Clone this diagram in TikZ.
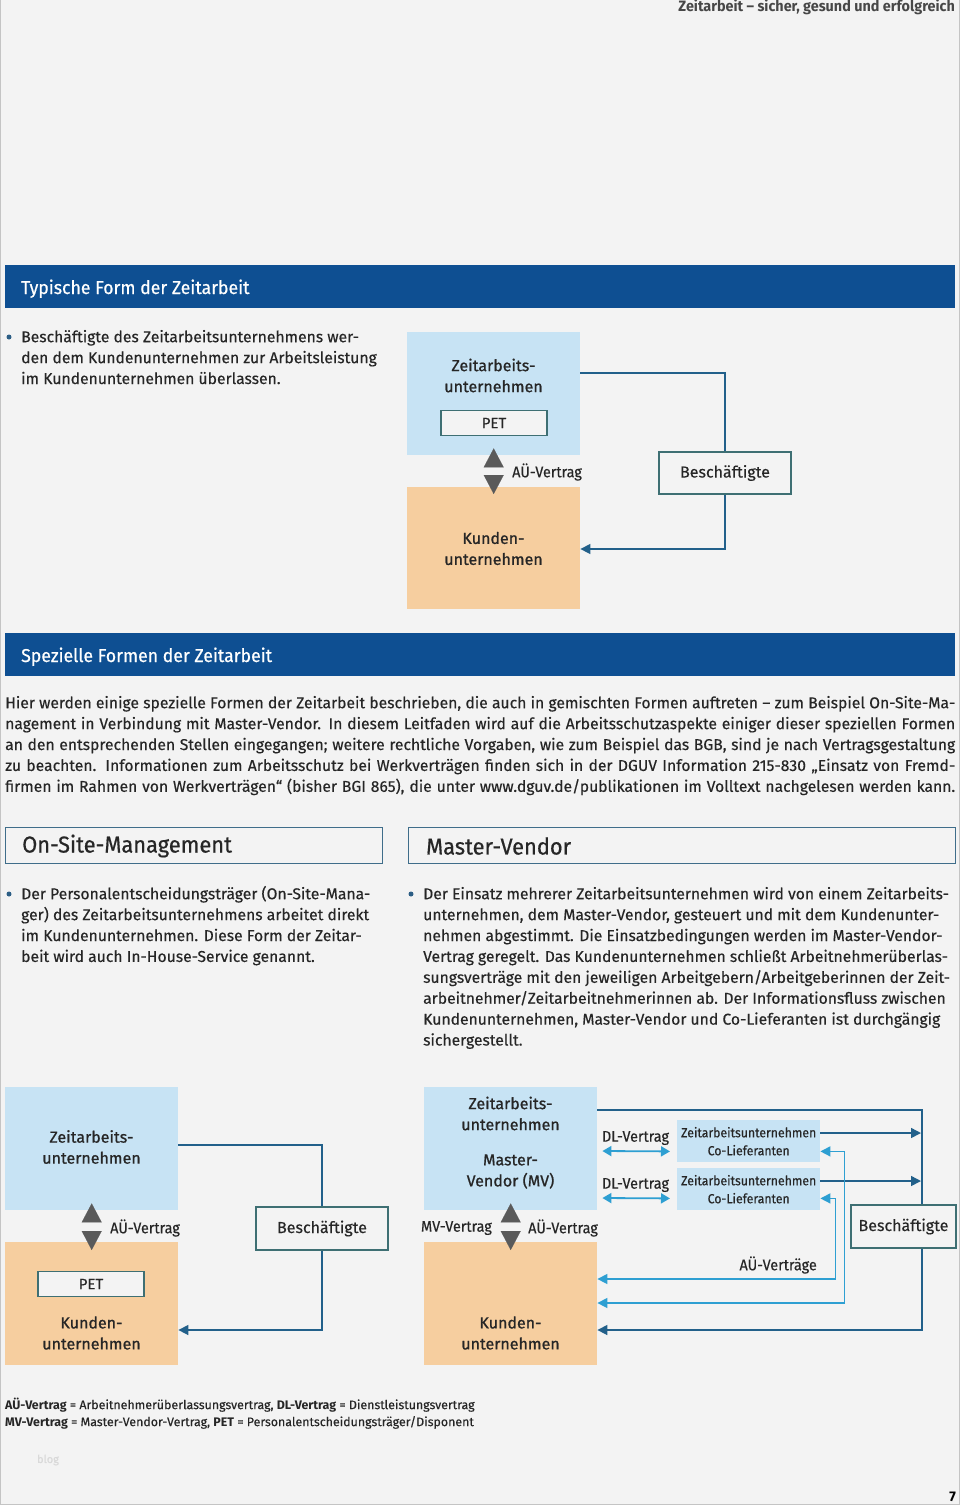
\documentclass[tikz,border=0pt]{standalone}
\usepackage{fontspec}
\setmainfont{Fira Sans}[UprightFeatures={FakeBold=0.35}]
\newfontfamily\condfont{Fira Sans}[FakeStretch=0.93,FakeBold=0.35]
\newfontfamily\headfont{Fira Sans}[FakeStretch=0.95,FakeBold=0.6]
\newfontfamily\runfont{Fira Sans}[FakeStretch=0.96,BoldFeatures={FakeStretch=0.96}]
\newfontfamily\medfont{Fira Sans}[FakeStretch=1.0,FakeBold=0.9]
\usetikzlibrary{calc,arrows.meta}
\definecolor{pagebg}{HTML}{F3F3F3}
\definecolor{pageframe}{HTML}{C4C4C4}
\definecolor{barblue}{HTML}{0E4F92}
\definecolor{lightblue}{HTML}{C7E3F4}
\definecolor{peach}{HTML}{F6CE9F}
\definecolor{boxteal}{HTML}{3E6F73}
\definecolor{headframe}{HTML}{3F6D8A}
\definecolor{darkline}{HTML}{22608A}
\definecolor{cyanline}{HTML}{2E9FD2}
\definecolor{trigray}{HTML}{5A5A5A}
\definecolor{textdark}{HTML}{262626}
\definecolor{dotblue}{HTML}{2C5E85}
\newcommand\jline[1]{\makebox[950pt][s]{#1}}
\begin{document}
\begin{tikzpicture}[x=1pt,y=-1pt,
  bar/.style={fill=barblue,draw=none,anchor=north west,inner sep=0,minimum width=950pt,minimum height=43pt},
  bartext/.style={anchor=base west,inner sep=0,text=white,font=\headfont\fontsize{18.6}{22}\selectfont},
  para/.style={anchor=north west,inner sep=0,align=left,text=textdark,font=\fontsize{15.7}{20.9}\selectfont},
  dot/.style={circle,fill=dotblue,inner sep=0,minimum size=5pt},
  bluebox/.style={fill=lightblue,draw=none,anchor=north west,inner sep=0,minimum width=173pt,minimum height=123pt},
  orangebox/.style={fill=peach,draw=none,anchor=north west,inner sep=0,minimum width=173pt,minimum height=123pt},
  boxlabel/.style={inner sep=0,align=center,text=textdark,font=\medfont\fontsize{16}{21}\selectfont},
  petbox/.style={draw=boxteal,line width=1.4pt,fill=pagebg,inner sep=0,minimum width=106pt,minimum height=25pt,text=textdark,font=\fontsize{15}{18}\selectfont},
  empbox/.style={draw=boxteal,line width=1.4pt,fill=pagebg,inner sep=0,minimum height=42pt,text=textdark,font=\fontsize{16}{18}\selectfont},
  lbl/.style={inner sep=0,text=textdark,font=\condfont\fontsize{15.5}{18}\selectfont},
  cobox/.style={fill=lightblue,draw=none,anchor=north west,inner sep=0,minimum width=143pt,minimum height=42pt,align=center,text=textdark,font=\condfont\fontsize{13.2}{18}\selectfont},
  headbox/.style={draw=headframe,line width=1.4pt,fill=pagebg,anchor=north west,inner sep=0,minimum height=36pt},
  headtext/.style={anchor=west,inner sep=0,text=textdark,font=\headfont\fontsize{23}{24}\selectfont},
  conn/.style={draw=darkline,line width=1.5pt},
  cyanconn/.style={draw=cyanline,line width=1.5pt},
  tip/.style={-{Triangle[width=10pt,length=10pt]}},
  tri/.style={draw=pagebg,line width=0.1pt,{Triangle[color=trigray,width=20pt,length=19pt]}-{Triangle[color=trigray,width=20pt,length=19pt]}},
  dlarrow/.style={draw=cyanline,line width=1.8pt,{Triangle[width=10pt,length=9pt]}-{Triangle[width=10pt,length=9pt]}}
]
\useasboundingbox (0,0) rectangle (960,1505);
\fill[pagebg] (0,0) rectangle (960,1505);
\draw[pageframe,line width=1pt] (0.5,0) -- (0.5,1505);
\draw[pageframe,line width=1pt] (959.5,0) -- (959.5,1505);
\draw[pageframe,line width=1pt] (0,1504.5) -- (960,1504.5);

% running header
\node[anchor=east,inner sep=0,text=black!72,font=\runfont\bfseries\fontsize{15}{16}\selectfont] (runhead) at (955,7) {Zeitarbeit – sicher, gesund und erfolgreich};

% ---------- Typische Form ----------
\node[bar] (bar1) at (5,265) {};
\node[bartext] (bar1t) at (21,294) {Typische Form der Zeitarbeit};
\node[dot] (dot1) at (9,337) {};
\node[para] (txt1) at (21,327.4) {\strut Beschäftigte des Zeitarbeitsunternehmens wer-\\den dem Kundenunternehmen zur Arbeitsleistung\\im Kundenunternehmen überlassen.};

\node[bluebox] (za1) at (407,332) {};
\node[orangebox,minimum height=122pt] (ku1) at (407,487) {};
\node[boxlabel] (za1t) at (493.5,375.5) {Zeitarbeits-\\unternehmen};
\node[petbox] (pet1) at (494,423) {PET};
\node[boxlabel] (ku1t) at (493.5,548.5) {Kunden-\\unternehmen};
\node[empbox,minimum width=132pt] (b1) at (725,473) {Beschäftigte};
\node[lbl,anchor=west] (av1) at (512,472) {AÜ-Vertrag};
\draw[tri] ($(za1.south)+(0,-7)$) -- ($(ku1.north)+(0,7)$);
\draw[conn] ($(za1.north east)+(0,41)$) -| (b1.north);
\draw[conn,tip] (b1.south) |- ($(ku1.north east)+(0,62)$);

% ---------- Spezielle Formen ----------
\node[bar] (bar2) at (5,633) {};
\node[bartext] (bar2t) at (21,662) {Spezielle Formen der Zeitarbeit};
\node[para] (txt2) at (5,693.4) {\strut\jline{Hier werden einige spezielle Formen der Zeitarbeit beschrieben, die auch in gemischten Formen auftreten – zum Beispiel On-Site-Ma-}\\
\jline{nagement in Verbindung mit Master-Vendor. In diesem Leitfaden wird auf die Arbeitsschutzaspekte einiger dieser speziellen Formen}\\
\jline{an den entsprechenden Stellen eingegangen; weitere rechtliche Vorgaben, wie zum Beispiel das BGB, sind je nach Vertragsgestaltung}\\
\jline{zu beachten. Informationen zum Arbeitsschutz bei Werkverträgen finden sich in der DGUV Information 215-830 „Einsatz von Fremd-}\\
\jline{firmen im Rahmen von Werkverträgen“ (bisher BGI 865), die unter www.dguv.de/publikationen im Volltext nachgelesen werden kann.}};

\node[headbox,minimum width=377pt] (hb1) at (5,827) {};
\node[headtext] (hb1t) at (22,846) {On-Site-Management};
\node[headbox,minimum width=547pt] (hb2) at (408,827) {};
\node[headtext] (hb2t) at (426,846) {Master-Vendor};

\node[dot] (dot2) at (9,894) {};
\node[para] (txt3) at (21,884.4) {\strut Der Personalentscheidungsträger (On-Site-Mana-\\ger) des Zeitarbeitsunternehmens arbeitet direkt\\im Kundenunternehmen. Diese Form der Zeitar-\\beit wird auch In-House-Service genannt.};
\node[dot] (dot3) at (411,894) {};
\node[para] (txt4) at (423,884.4) {\strut Der Einsatz mehrerer Zeitarbeitsunternehmen wird von einem Zeitarbeits-\\unternehmen, dem Master-Vendor, gesteuert und mit dem Kundenunter-\\nehmen abgestimmt. Die Einsatzbedingungen werden im Master-Vendor-\\Vertrag geregelt. Das Kundenunternehmen schließt Arbeitnehmerüberlas-\\sungsverträge mit den jeweiligen Arbeitgebern/Arbeitgeberinnen der Zeit-\\arbeitnehmer/Zeitarbeitnehmerinnen ab. Der Informationsfluss zwischen\\Kundenunternehmen, Master-Vendor und Co-Lieferanten ist durchgängig\\sichergestellt.};

% ---------- On-Site diagram ----------
\node[bluebox] (za2) at (5,1087) {};
\node[orangebox] (ku2) at (5,1242) {};
\node[boxlabel] (za2t) at (91.5,1147) {Zeitarbeits-\\unternehmen};
\node[petbox] (pet2) at (91,1284) {PET};
\node[boxlabel] (ku2t) at (91.5,1333) {Kunden-\\unternehmen};
\node[empbox,minimum width=132pt,minimum height=43pt] (b2) at (322,1228.5) {Beschäftigte};
\node[lbl,anchor=west] (av2) at (110,1228) {AÜ-Vertrag};
\draw[tri] ($(za2.south)+(0,-7)$) -- ($(ku2.north)+(0,8)$);
\draw[conn] ($(za2.north east)+(0,58)$) -| (b2.north);
\draw[conn,tip] (b2.south) |- ($(ku2.north east)+(0,88)$);

% ---------- Master-Vendor diagram ----------
\node[bluebox] (za3) at (424,1087) {};
\node[orangebox] (ku3) at (424,1242) {};
\node[boxlabel] (za3t) at (510.5,1113.5) {Zeitarbeits-\\unternehmen};
\node[boxlabel] (mv3t) at (510.5,1171.5) {Master-\\Vendor (MV)};
\node[boxlabel] (ku3t) at (510.5,1333) {Kunden-\\unternehmen};
\node[cobox] (co1) at (677,1120) {Zeitarbeitsunternehmen\\Co-Lieferanten};
\node[cobox] (co2) at (677,1168) {Zeitarbeitsunternehmen\\Co-Lieferanten};
\node[lbl] (dl1) at (635.5,1138) {DL-Vertrag};
\node[lbl] (dl2) at (635.5,1185) {DL-Vertrag};
\node[empbox,minimum width=105pt,minimum height=43pt] (b3) at (903.5,1226.5) {Beschäftigte};
\node[lbl,anchor=east] (mvv) at (492,1228) {MV-Vertrag};
\node[lbl,anchor=west] (av3) at (528,1228) {AÜ-Vertrag};
\node[lbl,anchor=east] (avs) at (817,1265) {AÜ-Verträge};
\coordinate (rail) at (922,1110);
\draw[tri] ($(za3.south)+(0,-7)$) -- ($(ku3.north)+(0,8)$);
\draw[dlarrow] ($(za3.north east)+(5,64)$) -- ($(co1.south west)+(-7,-11)$);
\draw[dlarrow] ($(za3.north east)+(5,111)$) -- ($(co2.south west)+(-7,-12)$);
\draw[conn] ($(za3.north east)+(0,23)$) -- (rail) -- (rail |- b3.north);
\draw[conn,tip] ($(co1.north east)+(0,13)$) -- ($(rail |- co1.north east)+(-1,13)$);
\draw[conn,tip] ($(co2.north east)+(0,13)$) -- ($(rail |- co2.north east)+(-1,13)$);
\draw[cyanconn,{Triangle[width=10pt,length=10pt]}-{Triangle[width=10pt,length=10pt]}] ($(co1.south east)+(0,-11)$) -- ++(24,0) |- ($(ku3.north east)+(0,61)$);
\draw[cyanconn,{Triangle[width=10pt,length=10pt]}-{Triangle[width=10pt,length=10pt]}] ($(co2.south east)+(0,-12)$) -- ++(15,0) |- ($(ku3.north east)+(0,37)$);
\draw[conn,tip] (rail |- b3.south) |- ($(ku3.north east)+(0,88)$);

% ---------- legend ----------
\node[anchor=north west,inner sep=0,align=left,text=textdark,font=\fontsize{12.4}{17}\selectfont] (legend) at (5,1397) {\strut\textbf{AÜ-Vertrag} = Arbeitnehmerüberlassungsvertrag, \textbf{DL-Vertrag} = Dienstleistungsvertrag\\\textbf{MV-Vertrag} = Master-Vendor-Vertrag, \textbf{PET} = Personalentscheidungsträger/Disponent};
\node[inner sep=0,text=black!15,font=\fontsize{11}{13}\selectfont] (blog) at (48,1460) {blog};
\node[anchor=east,inner sep=0,text=black,font=\bfseries\fontsize{14}{15}\selectfont] (pnum) at (956,1497) {7};
\end{tikzpicture}
\end{document}
